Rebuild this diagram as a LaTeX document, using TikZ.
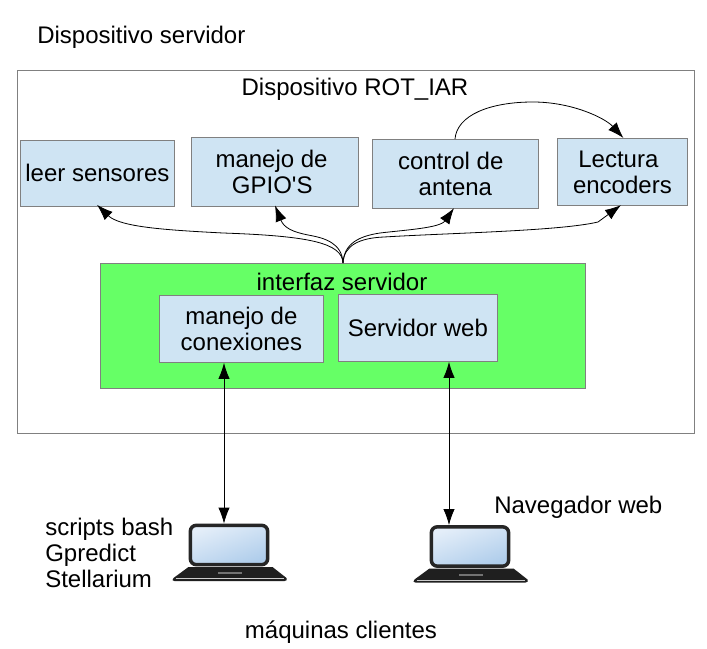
\documentclass[tikz,border=0pt]{standalone}
\usepackage{fontspec}
\setmainfont{Liberation Sans}
\usetikzlibrary{arrows.meta,positioning,calc}
\definecolor{boxblue}{HTML}{CFE4F3}
\definecolor{boxgreen}{HTML}{66FF66}
\definecolor{edgegray}{HTML}{808080}
\definecolor{scrA}{HTML}{E4EEF9}
\definecolor{scrB}{HTML}{AFCDEB}
\tikzset{
  x=0.75pt,y=-0.75pt,
  txt/.style={font=\fontsize{18pt}{19.5pt}\selectfont,align=center,inner sep=0pt},
  module/.style={draw=edgegray,line width=0.6pt,fill=boxblue,inner sep=0pt,anchor=north west,txt},
  link/.style={draw=black,line width=0.6pt,-{Latex[length=12pt,width=8.5pt]}},
  both/.style={draw=black,line width=0.6pt,{Latex[length=12pt,width=8.5pt]}-{Latex[length=12pt,width=8.5pt]}},
  screen/.style={draw=black!85,line width=2.6pt,rounded corners=4.5pt,minimum width=58pt,minimum height=29.5pt,inner sep=0pt,
    left color=scrA,right color=scrB,shading angle=20},
}
\newcommand{\boxat}[6]{\node[#1,minimum width=#5*0.75pt-#3*0.75pt,minimum height=#6*0.75pt-#4*0.75pt] (#2) at (#3,#4)}
\newcommand{\laptopbase}[2]{%
  \fill[black!88] (#1-41,#2+1) -- (#1+43,#2+1) -- (#1+57,#2+12) .. controls (#1+58,#2+14) and (#1+57,#2+15) .. (#1+55,#2+15)
    -- (#1-55,#2+15) .. controls (#1-57,#2+15) and (#1-58,#2+14) .. (#1-56,#2+12) -- cycle;
  \fill[black!55] (#1-12,#2+6) rectangle (#1+12,#2+8);
  \draw[white!80!black,line width=0.4pt] (#1-54,#2+12.5) -- (#1+54,#2+12.5);
}
\begin{document}
\begin{tikzpicture}
\useasboundingbox (0,0) rectangle (707,649);
\fill[white] (0,0) rectangle (707,649);

\node[txt,anchor=west] (title) at (37,37) {Dispositivo servidor};
\boxat{draw=edgegray,line width=0.6pt,inner sep=0pt,anchor=north west}{outer}{17}{70}{694}{433} {};
\node[txt] (rot) at (355,89) {Dispositivo ROT\_IAR};

\boxat{module}{leer}{20}{140}{174}{206} {leer sensores};
\boxat{module}{gpio}{191}{137}{358}{206} {\hspace*{-5pt}manejo de\\\hspace*{-4pt}GPIO\textquotesingle S};
\boxat{module}{control}{372}{139}{538}{208} {\hspace*{-7pt}control de\\antena};
\boxat{module}{lectura}{557}{138}{687}{205} {\hspace*{-6pt}Lectura\\encoders};

\boxat{draw=edgegray,line width=0.6pt,fill=boxgreen,inner sep=0pt,anchor=north west}{green}{100}{263}{585}{388} {};
\node[txt] (iface) at (342,282) {interfaz servidor};
\boxat{module}{conex}{159}{295}{323}{362} {manejo de\\conexiones};
\boxat{module}{web}{338}{294}{497}{361} {Servidor web};

\coordinate (root) at (343,263);
\draw[link] (root) .. controls (342,243) and (310,236) .. (223,233) .. controls (165,230) and (120,227) .. ([yshift=1.5pt]leer.south -| 97,206);
\draw[link] (root) .. controls (342,243) and (325,238) .. (308,235) .. controls (293,232) and (284,228) .. ([yshift=1pt]gpio.south -| 275,206);
\draw[link] (root) .. controls (344,243) and (360,236) .. (380,233) .. controls (405,230) and (440,228) .. ([yshift=0.5pt]control.south -| 454,208);
\draw[link] (root) .. controls (344,245) and (360,238) .. (384,237) .. controls (450,233) and (560,231) .. (598,222) -- ([yshift=0.5pt]lectura.south -| 621,205);
\draw[link] ([xshift=62.25pt]control.north west) .. controls (457,115) and (490,102) .. (533,102) .. controls (572,102) and (605,118) .. ([xshift=0.75pt]lectura.north);

% clients
\node[screen] (lapA) at (229,545) {};
\node[screen] (lapB) at (470,546.5) {};
\laptopbase{229.5}{566}
\laptopbase{470.5}{567.5}

\draw[both] (conex.south -| 224,362) -- (lapA.north -| 224,524);
\draw[both] (web.south -| 449,361) -- (lapB.north -| 449,521);

\node[txt,anchor=north west,align=left] (clientsA) at (45,518) {scripts bash\\Gpredict\\Stellarium};
\node[txt,anchor=west] (clientsB) at (494,507) {Navegador web};
\node[txt] (machines) at (341,632) {máquinas clientes};
\end{tikzpicture}
\end{document}
